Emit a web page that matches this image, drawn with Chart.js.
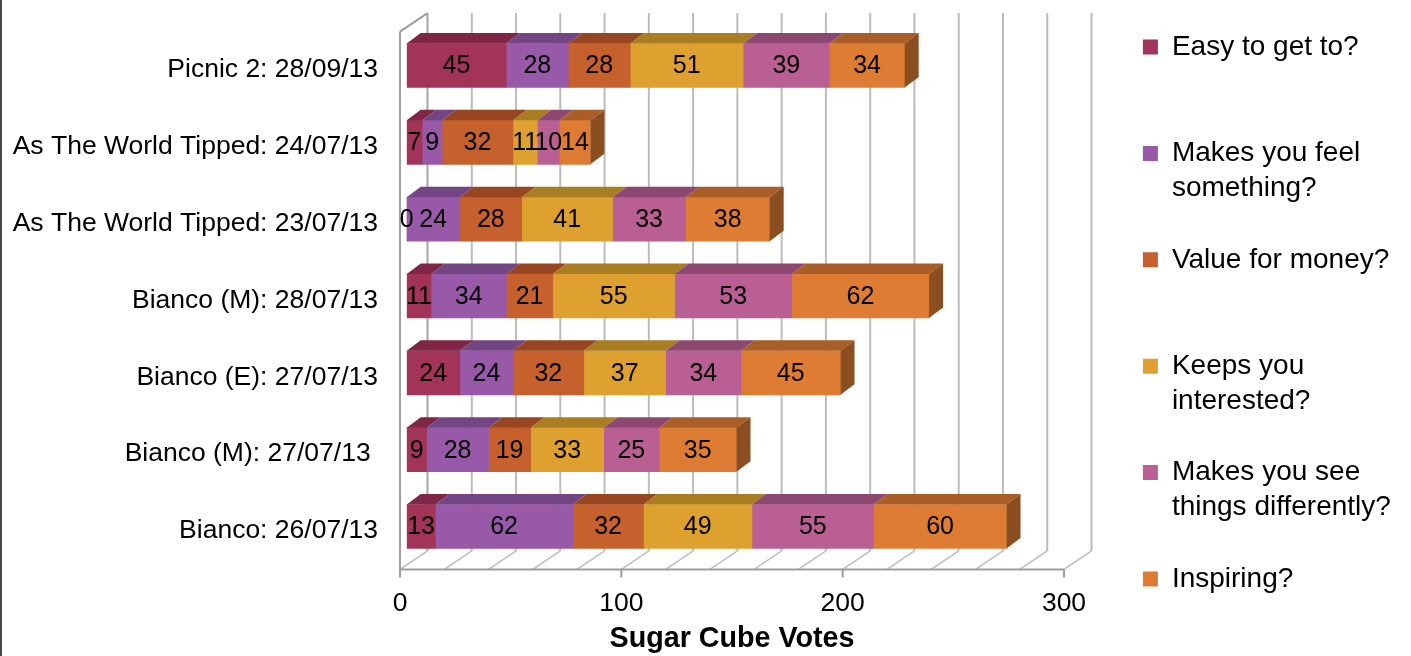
<!DOCTYPE html>
<html>
<head>
<meta charset="utf-8">
<title>Sugar Cube Votes</title>
<script src="https://cdn.jsdelivr.net/npm/chart.js@4.4.0/dist/chart.umd.min.js"></script>
<style>
  html, body { margin: 0; padding: 0; background: #ffffff; overflow: hidden; }
  canvas { display: block; }
</style>
</head>
<body>
<canvas id="votes" width="1411" height="656"></canvas>
<script>
// Performances, top to bottom
const performances = [
  "Picnic 2: 28/09/13",
  "As The World Tipped: 24/07/13",
  "As The World Tipped: 23/07/13",
  "Bianco (M): 28/07/13",
  "Bianco (E): 27/07/13",
  "Bianco (M): 27/07/13 ",
  "Bianco: 26/07/13"
];

// Sugar cube votes per question
const easyToGetTo          = [45, 7, 0, 11, 24, 9, 13];
const makesYouFeel         = [28, 9, 24, 34, 24, 28, 62];
const valueForMoney        = [28, 32, 28, 21, 32, 19, 32];
const keepsYouInterested   = [51, 11, 41, 55, 37, 33, 49];
const seeThingsDifferently = [39, 10, 33, 53, 34, 25, 55];
const inspiring            = [34, 14, 38, 62, 45, 35, 60];

const seriesNames = [
  "Easy to get to?",
  "Makes you feel something?",
  "Value for money?",
  "Keeps you interested?",
  "Makes you see things differently?",
  "Inspiring?"
];
const seriesValues = [easyToGetTo, makesYouFeel, valueForMoney, keepsYouInterested, seeThingsDifferently, inspiring];

// Legend text, wrapped; trailing blank lines keep the entries evenly spaced
const legendLines = [
  ["Easy to get to?", "", ""],
  ["Makes you feel", "something?", ""],
  ["Value for money?", "", ""],
  ["Keeps you", "interested?", ""],
  ["Makes you see", "things differently?", ""],
  ["Inspiring?"]
];

const voteTicks = [0, 100, 200, 300];
const gridStep = 20;

// Face colours of the 3-D blocks
const frontColours = ["#a23459", "#9759a8", "#c6602c", "#dea12f", "#b95f93", "#df7c34"];
const topColours   = ["#7f2545", "#744583", "#974621", "#a97e23", "#8c4871", "#a95e27"];
const sideColours  = ["#6a1f3a", "#5f386b", "#7c3a1b", "#8a671c", "#733b5c", "#8b4e20"];

// 3-D geometry (pixels)
const boxDepth  = { dx: 27.5, dy: -18.5 };
const barShift  = { dx: 6.7,  dy: -4.5 };
const barDepth  = { dx: 14,   dy: -10.5 };

const FONT = "'Liberation Sans', Arial, Helvetica, sans-serif";
Chart.defaults.font.family = FONT;
Chart.defaults.color = "#000000";

// Back wall, floor and left wall of the 3-D plot box
const frame3d = {
  id: "frame3d",
  beforeDraw(chart) {
    const { ctx, chartArea } = chart;
    const xs = chart.scales.x;
    const top = chartArea.top, bottom = chartArea.bottom;
    ctx.save();
    // back wall gridlines
    for (let v = xs.min; v <= xs.max + 1e-9; v += gridStep) {
      const bx = xs.getPixelForValue(v) + boxDepth.dx;
      ctx.strokeStyle = v === xs.min ? "#a4a4a4" : "#bcbcbc";
      ctx.lineWidth = 2;
      ctx.beginPath();
      ctx.moveTo(bx, top + boxDepth.dy);
      ctx.lineTo(bx, bottom + boxDepth.dy);
      ctx.stroke();
    }
    // floor gridlines running into depth
    ctx.strokeStyle = "#bdbdbd";
    ctx.lineWidth = 1.5;
    for (let v = xs.min; v <= xs.max + 1e-9; v += gridStep) {
      const fx = xs.getPixelForValue(v);
      ctx.beginPath();
      ctx.moveTo(fx, bottom);
      ctx.lineTo(fx + boxDepth.dx, bottom + boxDepth.dy);
      ctx.stroke();
    }
    // front edges of floor and left wall
    const x0 = xs.getPixelForValue(xs.min);
    const xMax = xs.getPixelForValue(xs.max);
    ctx.strokeStyle = "#9e9e9e";
    ctx.lineWidth = 2;
    ctx.beginPath();
    ctx.moveTo(x0, bottom);
    ctx.lineTo(xMax, bottom);
    ctx.moveTo(x0, top);
    ctx.lineTo(x0, bottom);
    ctx.moveTo(x0, top);
    ctx.lineTo(x0 + boxDepth.dx, top + boxDepth.dy);
    ctx.stroke();
    // tick marks on the value axis
    voteTicks.forEach(v => {
      const fx = xs.getPixelForValue(v);
      ctx.beginPath();
      ctx.moveTo(fx, bottom);
      ctx.lineTo(fx, bottom + 8);
      ctx.stroke();
    });
    // image border on the left
    ctx.fillStyle = "#4a4a4a";
    ctx.fillRect(0, 0, 2, chart.height);
    ctx.restore();
  },
  beforeDatasetsDraw(chart) {
    // blocks sit part-way back in the box
    chart.ctx.save();
    chart.ctx.translate(barShift.dx, barShift.dy);
  },
  afterDatasetsDraw(chart) {
    const { ctx } = chart;
    const n = performances.length;
    for (let i = 0; i < n; i++) {
      let last = null;
      chart.data.datasets.forEach((ds, d) => {
        const el = chart.getDatasetMeta(d).data[i];
        const p = el.getProps(["x", "y", "base", "height"], true);
        const left = Math.min(p.x, p.base), right = Math.max(p.x, p.base);
        const t = p.y - p.height / 2, b = p.y + p.height / 2;
        if (right - left < 0.5) return;
        ctx.fillStyle = topColours[d];
        ctx.beginPath();
        ctx.moveTo(left, t);
        ctx.lineTo(right, t);
        ctx.lineTo(right + barDepth.dx, t + barDepth.dy);
        ctx.lineTo(left + barDepth.dx, t + barDepth.dy);
        ctx.closePath();
        ctx.fill();
        last = { d, right, t, b };
      });
      if (last) {
        ctx.fillStyle = sideColours[last.d];
        ctx.beginPath();
        ctx.moveTo(last.right, last.t);
        ctx.lineTo(last.right + barDepth.dx, last.t + barDepth.dy);
        ctx.lineTo(last.right + barDepth.dx, last.b + barDepth.dy);
        ctx.lineTo(last.right, last.b);
        ctx.closePath();
        ctx.fill();
      }
    }
    // value labels on the front faces
    ctx.font = "25px " + FONT;
    ctx.fillStyle = "#000000";
    ctx.textAlign = "center";
    ctx.textBaseline = "middle";
    chart.data.datasets.forEach((ds, d) => {
      chart.getDatasetMeta(d).data.forEach((el, i) => {
        const p = el.getProps(["x", "y", "base"], true);
        ctx.fillText(String(ds.data[i]), (p.x + p.base) / 2, p.y + 1);
      });
    });
    ctx.restore();
  }
};

const datasets = seriesNames.map((name, k) => ({
  label: name,
  data: seriesValues[k],
  backgroundColor: frontColours[k],
  borderWidth: 0,
  barThickness: 44,
  xAxisID: "x",
  yAxisID: "y"
}));

new Chart(document.getElementById("votes"), {
  type: "bar",
  data: { labels: performances, datasets },
  options: {
    indexAxis: "y",
    responsive: false,
    animation: false,
    devicePixelRatio: 1,
    events: [],
    layout: { padding: { top: 31.6, right: 17.5, bottom: 0, left: 0 } },
    scales: {
      x: {
        type: "linear",
        stacked: true,
        min: 0,
        max: 300,
        grid: { display: false, drawTicks: false },
        border: { display: false },
        afterBuildTicks: s => { s.ticks = voteTicks.map(v => ({ value: v })); },
        afterFit: s => { s.height = 86.6; },
        ticks: {
          padding: 18,
          maxRotation: 0,
          color: "#000000",
          font: { size: 26.5, lineHeight: 1.2 }
        },
        title: {
          display: true,
          text: "Sugar Cube Votes",
          color: "#000000",
          font: { size: 28.7, weight: "bold", lineHeight: 1.2 },
          padding: { top: 0, bottom: 0 }
        }
      },
      y: {
        type: "category",
        stacked: true,
        offset: true,
        grid: { display: false, drawTicks: false },
        border: { display: false },
        afterFit: s => { s.width = 400; },
        ticks: {
          padding: 22,
          autoSkip: false,
          color: "#000000",
          font: { size: 26.5, lineHeight: 0.4 }
        }
      },
      // room on the right for the depth of the back wall
      depthRoom: {
        type: "linear",
        position: "right",
        display: true,
        grid: { display: false, drawTicks: false },
        border: { display: false },
        ticks: { display: false },
        afterFit: s => { s.width = 77.5; }
      }
    },
    plugins: {
      tooltip: { enabled: false },
      legend: {
        position: "right",
        align: "start",
        maxWidth: 252,
        labels: {
          boxWidth: 15,
          boxHeight: 15,
          padding: 1.4,
          color: "#000000",
          font: { size: 28, lineHeight: 1.25 },
          generateLabels(chart) {
            return Chart.defaults.plugins.legend.labels.generateLabels(chart).map((item, i) => ({
              ...item,
              text: legendLines[i],
              lineWidth: 0,
              strokeStyle: "rgba(0,0,0,0)"
            }));
          }
        }
      }
    }
  },
  plugins: [frame3d]
});
</script>
</body>
</html>
